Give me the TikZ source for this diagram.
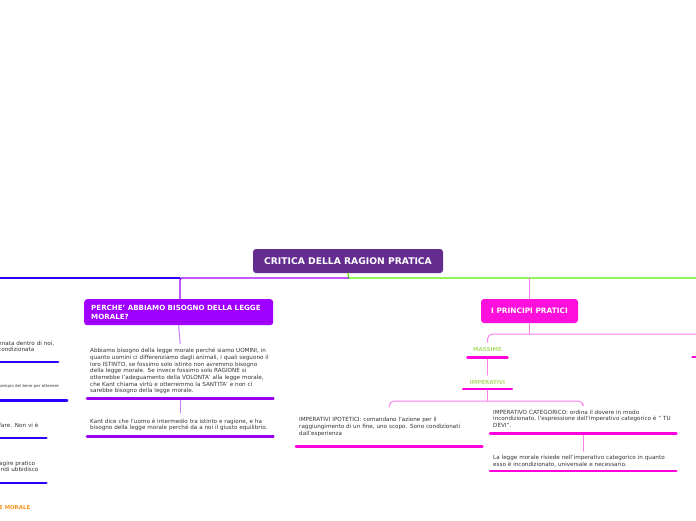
\documentclass[tikz,border=0pt]{standalone}
\usepackage{fontspec}
\setmainfont{DejaVu Sans}
\definecolor{rootcol}{HTML}{652C90}
\definecolor{purpcol}{HTML}{9F00FF}
\definecolor{pinkcol}{HTML}{FF0FDC}
\definecolor{bluecol}{HTML}{2A00FF}
\definecolor{greencol}{HTML}{55F000}
\definecolor{lpurpcol}{HTML}{C77DFF}
\definecolor{lpinkcol}{HTML}{FF80EE}
\definecolor{ulpinkcol}{HTML}{FF00DD}
\definecolor{ulpurpcol}{HTML}{9900EE}
\definecolor{lgreencol}{HTML}{B0DD70}
\definecolor{orangecol}{HTML}{F7941D}
\definecolor{textcol}{HTML}{333333}
\begin{document}
\begin{tikzpicture}[x=1pt, y=-1pt, line join=round, line cap=round,
	mainbox/.style={rounded corners=3pt, text=white, align=left},
	topic/.style={text=textcol, align=left, inner xsep=3pt, inner ysep=0pt, anchor=south west,
		font=\fontsize{5.65}{6.7}\selectfont},
	label/.style={text=lgreencol, inner sep=0pt, anchor=south, font=\fontsize{5.5}{6.5}\bfseries},
	ulpurp/.style={draw=ulpurpcol, line width=2.6pt},
	ulpink/.style={draw=ulpinkcol, line width=2.6pt},
	ulblue/.style={draw=bluecol, line width=2.6pt},
	lpurp/.style={draw=lpurpcol, line width=1pt},
	lpink/.style={draw=lpinkcol, line width=1pt}]
	\useasboundingbox (0,0) rectangle (696,520);
	\clip (0,0) rectangle (696,520);

	\node[mainbox, fill=rootcol, minimum width=190pt, minimum height=24pt,
		font=\fontsize{9.2}{11}\selectfont\bfseries] (root) at (348,261) {CRITICA DELLA RAGION PRATICA};
	\node[mainbox, fill=purpcol, text width=175pt, inner xsep=7pt, minimum height=26pt, anchor=north west,
		font=\fontsize{7.1}{8.6}\selectfont\bfseries] (perche) at (84,299) {PERCHE' ABBIAMO BISOGNO DELLA LEGGE\\MORALE?};
	\node[mainbox, fill=pinkcol, minimum width=97pt, minimum height=24pt,
		font=\fontsize{7.4}{9}\selectfont\bfseries] (principi) at (529.5,311) {I PRINCIPI PRATICI};

	\coordinate (hub) at (348.5,278);
	\coordinate (bpurp) at (180,278);
	\coordinate (bpink) at (529.5,278);
	\coordinate (lft) at (0,278);
	\coordinate (rgt) at (696,278);
	\draw[greencol, line width=1.2pt] (root.south) -- (hub) -- (rgt);
	\draw[bluecol, line width=1.1pt] (bpurp) -- (lft);
	\draw[purpcol, line width=1.2pt, rounded corners=2pt] (hub) -- (bpurp) -- (bpurp |- perche.north);
	\draw[lpink, line width=1.2pt] (bpink) -- (principi.north);

	% ramo viola
	\node[topic, text width=180pt, minimum height=54pt] (abbiamo) at (87,398.3) {Abbiamo bisogno della legge morale perché siamo UOMINI, in\\quanto uomini ci differenziamo dagli animali, i quali seguono il\\loro ISTINTO, se fossimo solo istinto non avremmo bisogno\\della legge morale.  Se invece fossimo solo RAGIONE si\\otterrebbe l'adeguamento della VOLONTA' alla legge morale,\\che Kant chiama virtù e otterremmo la SANTITA' e non ci\\sarebbe bisogno della legge morale.};
	\node[topic, text width=180pt, minimum height=23.4pt] (kant) at (87,436.7) {Kant dice che l'uomo è intermedio tra istinto e ragione, e ha\\bisogno della legge morale perché da a noi il giusto equilibrio.};
	\draw[lpurp] (perche.south) -- (abbiamo.north);
	\draw[lpurp] (abbiamo.south) -- (kant.north);
	\draw[ulpurp] (abbiamo.south west) -- (abbiamo.south east);
	\draw[ulpurp] (kant.south west) -- (kant.south east);

	% ramo rosa
	\node[label, minimum width=39.6pt, minimum height=14.6pt] (massime) at (487.5,357.3) {MASSIME};
	\node[label, minimum width=48.4pt, minimum height=13.4pt] (imperativi) at (487.5,389) {IMPERATIVI};
	\node[topic, text width=180pt, minimum height=39.4pt] (ipotetici) at (296,446.7) {IMPERATIVI IPOTETICI: comandano l'azione per il\\raggiungimento di un fine, uno scopo. Sono condizionati\\dall'esperienza};
	\node[topic, text width=180pt, minimum height=28.6pt] (categorico) at (490,433.3) {IMPERATIVO CATEGORICO: ordina il dovere in modo\\incondizionato, l'espressione dell'imperativo categorico è " TU\\DEVI".};
	\node[topic, text width=180pt, minimum height=19.4pt] (legge) at (490,471) {La legge morale risiede nell'imperativo categorico in quanto\\esso è incondizionato, universale e necessario.};

	\coordinate (pp) at (529.5,334);
	\coordinate (ppr) at (700,334);
	\coordinate (imp2) at (487.5,401);
	\draw[lpink] (principi.south) -- (pp);
	\draw[lpink, rounded corners=5pt] (massime.north) -- (massime.north |- pp) -- (ppr);
	\draw[lpink] (massime.south) -- (imperativi.north);
	\draw[lpink] (imperativi.south) -- (imp2);
	\draw[lpink, rounded corners=5pt] (ipotetici.north) -- (ipotetici.north |- imp2) -- (categorico.north |- imp2) -- (categorico.north);
	\draw[lpink] (categorico.south) -- (legge.north);
	\draw[ulpink] (massime.south west) -- (massime.south east);
	\draw[ulpink] (imperativi.south west) -- (imperativi.south east);
	\draw[ulpink] (ipotetici.south west) -- (ipotetici.south east);
	\draw[ulpink] (categorico.south west) -- (categorico.south east);
	\draw[ulpink] (legge.south west) -- (legge.south east);
	\draw[ulpink] (692.5,357) -- (700,357);

	% ramo blu
	\node[topic, text width=56.7pt, minimum height=31pt] (innata) at (-5,362) {nnata dentro di noi,\\condizionata};
	\node[topic, text width=64.7pt, minimum height=27.4pt, font=\fontsize{4}{5}\selectfont] (esempio) at (-4,400.7) {sempio del bene per ottenere};
	\node[topic, text width=44pt, minimum height=26pt] (fare) at (-4,438) {fare. Non vi è};
	\node[topic, text width=44pt, minimum height=33pt] (agire) at (-4,483) {agire pratico\\indi ubbidisco};
	\node[anchor=west, inner sep=0pt, text=orangecol, font=\fontsize{5.4}{6.5}\selectfont\bfseries] (emorale) at (-1,507.7) {E MORALE};
	\draw[ulblue] (innata.south west) -- (innata.south east);
	\draw[ulblue] (esempio.south west) -- (esempio.south east);
	\draw[ulblue] (fare.south west) -- (fare.south east);
	\draw[ulblue] (agire.south west) -- (agire.south east);
\end{tikzpicture}
\end{document}
